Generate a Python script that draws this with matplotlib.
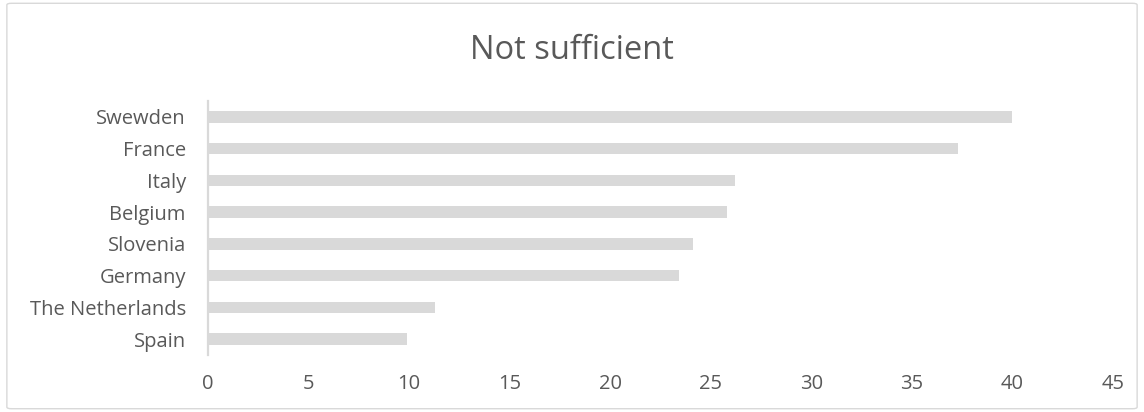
import matplotlib.pyplot as plt
from matplotlib.patches import FancyBboxPatch

# Share of respondents answering "not sufficient", by country
countries = ["Spain", "The Netherlands", "Germany", "Slovenia",
             "Belgium", "Italy", "France", "Swewden"]
values = [9.9, 11.3, 23.4, 24.1, 25.8, 26.2, 37.3, 40.0]
xticks = [0, 5, 10, 15, 20, 25, 30, 35, 40, 45]

text_color = "#595959"
bar_color = "#d9d9d9"

plt.rcParams['font.family'] = ['Open Sans', 'DejaVu Sans']

fig = plt.figure(figsize=(11.44, 4.12), dpi=100)
ax = fig.add_axes([0.1818, 0.1383, 0.7911, 0.6166])

ax.barh(range(len(countries)), values, height=0.36, color=bar_color)

ax.set_xlim(0, 45)
ax.set_ylim(-0.5, len(countries) - 0.5)
ax.set_xticks(xticks)
ax.set_yticks(range(len(countries)))
ax.set_yticklabels(countries)

for side in ["top", "right", "bottom"]:
    ax.spines[side].set_visible(False)
ax.spines["left"].set_color(bar_color)
ax.spines["left"].set_linewidth(1.6)

ax.tick_params(axis="both", length=0, labelsize=14.5, colors=text_color)
ax.tick_params(axis="y", pad=16)
ax.tick_params(axis="x", pad=14)

fig.text(0.5, 0.856, "Not sufficient", ha="center", va="baseline",
         fontsize=23.5, color=text_color)

# light frame around the whole chart
frame = FancyBboxPatch((0.006, 0.008), 0.988, 0.984,
                       boxstyle="round,pad=0,rounding_size=0.004",
                       transform=fig.transFigure, fill=False,
                       edgecolor="#d9d9d9", linewidth=1.0)
fig.patches.append(frame)

fig.savefig("out.png", dpi=100)
